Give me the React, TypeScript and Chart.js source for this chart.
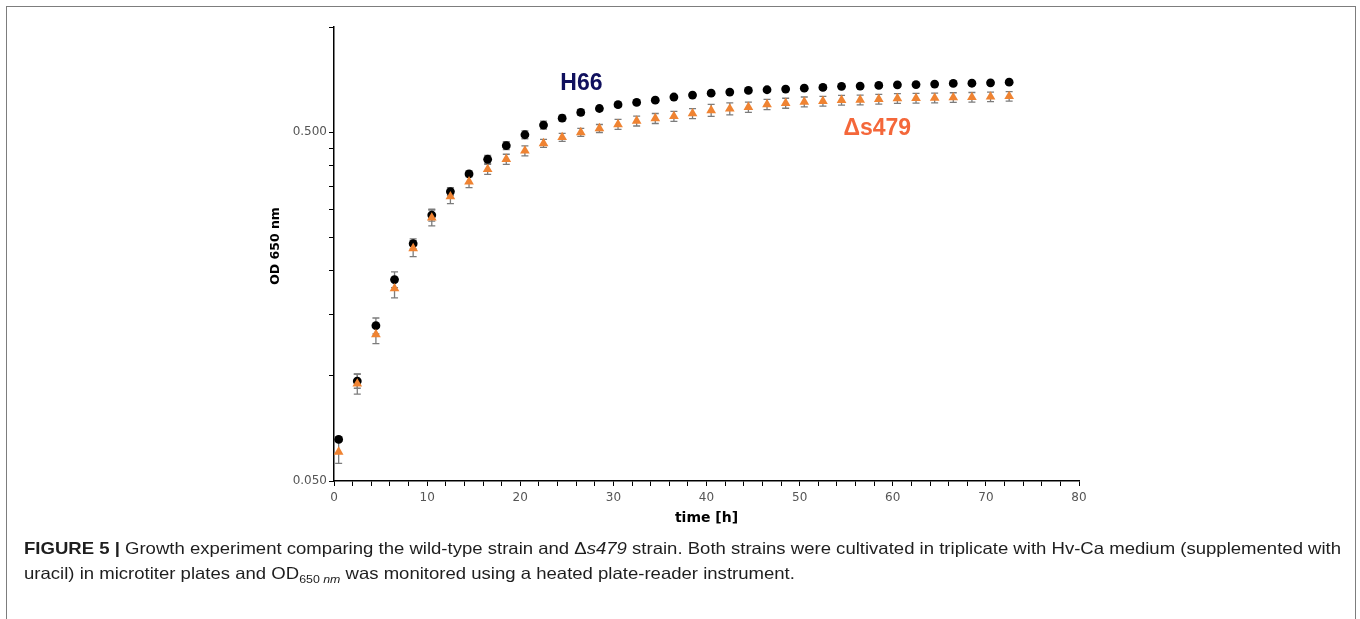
import React, { useEffect, useLayoutEffect, useRef } from 'react';
import { Chart, registerables } from 'chart.js';

Chart.register(...registerables);

// ---- data ----
const TIME_H = [
  0.5, 2.5, 4.5, 6.5, 8.5, 10.5, 12.5, 14.5, 16.5, 18.5, 20.5, 22.5, 24.5,
  26.5, 28.5, 30.5, 32.5, 34.5, 36.5, 38.5, 40.5, 42.5, 44.5, 46.5, 48.5,
  50.5, 52.5, 54.5, 56.5, 58.5, 60.5, 62.5, 64.5, 66.5, 68.5, 70.5, 72.5,
];

const OD_H66 = [
  0.0658, 0.0967, 0.1393, 0.1889, 0.2393, 0.289, 0.3376, 0.3793, 0.4178,
  0.457, 0.4912, 0.5236, 0.548, 0.569, 0.584, 0.599, 0.608, 0.617, 0.63,
  0.638, 0.646, 0.651, 0.658, 0.661, 0.664, 0.668, 0.671, 0.676, 0.677,
  0.68, 0.683, 0.684, 0.686, 0.689, 0.69, 0.692, 0.695,
];

const SD_H66 = [
  0.0009, 0.0045, 0.0073, 0.0099, 0.0079, 0.0114, 0.0089, 0.0075, 0.011,
  0.012, 0.0129, 0.0138, 0.0108, 0.0112, 0.009, 0.009, 0.009, 0.008, 0.008,
  0.008, 0.008, 0.008, 0.008, 0.008, 0.008, 0.008, 0.008, 0.008, 0.008,
  0.008, 0.008, 0.008, 0.008, 0.008, 0.008, 0.008, 0.008,
];

const OD_S479 = [
  0.0606, 0.095, 0.1315, 0.178, 0.232, 0.284, 0.3267, 0.3606, 0.391, 0.418,
  0.442, 0.464, 0.483, 0.499, 0.512, 0.526, 0.538, 0.547, 0.555, 0.565,
  0.577, 0.583, 0.589, 0.6, 0.605, 0.61, 0.613, 0.617, 0.618, 0.621, 0.624,
  0.625, 0.626, 0.628, 0.629, 0.631, 0.633,
];

const SD_S479 = [
  0.0044, 0.0063, 0.0078, 0.0105, 0.0122, 0.0149, 0.015, 0.0142, 0.0129,
  0.0138, 0.0145, 0.0122, 0.0127, 0.0131, 0.0135, 0.0173, 0.0177, 0.018,
  0.0183, 0.0186, 0.0228, 0.023, 0.02, 0.02, 0.02, 0.02, 0.02, 0.02, 0.02,
  0.02, 0.02, 0.02, 0.02, 0.02, 0.02, 0.02, 0.02,
];

const Y_TICKS = [0.05, 0.1, 0.15, 0.2, 0.25, 0.3, 0.35, 0.4, 0.45, 0.5, 1.0];
const Y_TICK_LABELS: Record<string, string> = { '0.05': '0.050', '0.5': '0.500' };
const X_MIN = 0;
const X_MAX = 80;
const X_STEP = 2;
const X_LABEL_EVERY = 10;
const Y_MIN = 0.05;
const Y_MAX = 1.0;
const X_TITLE = 'time [h]';
const Y_TITLE = 'OD 650 nm';

const SERIES_LABELS = [
  { text: 'H66', t: 24.3, od: 0.686, color: '#10105e' },
  { text: '\u0394s479', t: 54.7, od: 0.51, color: '#f4673a' },
];

const toPoints = (xs: number[], ys: number[]) => xs.map((x, i) => ({ x, y: ys[i] }));

const errorBarPlugin = {
  id: 'errorBars',
  beforeDatasetsDraw(chart: any) {
    const { ctx } = chart;
    const xs = chart.scales.x;
    const ys = chart.scales.y;
    ctx.save();
    ctx.strokeStyle = '#7c7c7c';
    ctx.lineWidth = 1.3;
    chart.data.datasets.forEach((ds: any) => {
      const sd: number[] | undefined = ds.sd;
      if (!sd) return;
      ds.data.forEach((p: any, i: number) => {
        const x = xs.getPixelForValue(p.x);
        const y1 = ys.getPixelForValue(p.y + sd[i]);
        const y2 = ys.getPixelForValue(p.y - sd[i]);
        ctx.beginPath();
        ctx.moveTo(x, y1);
        ctx.lineTo(x, y2);
        ctx.moveTo(x - 3.5, y1);
        ctx.lineTo(x + 3.5, y1);
        ctx.moveTo(x - 3.5, y2);
        ctx.lineTo(x + 3.5, y2);
        ctx.stroke();
      });
    });
    ctx.restore();
  },
};

const seriesLabelPlugin = {
  id: 'seriesLabels',
  afterDatasetsDraw(chart: any) {
    const { ctx } = chart;
    const xs = chart.scales.x;
    const ys = chart.scales.y;
    ctx.save();
    ctx.font = 'bold 23px "Liberation Sans", Arial, sans-serif';
    ctx.textAlign = 'left';
    ctx.textBaseline = 'middle';
    SERIES_LABELS.forEach((l) => {
      ctx.fillStyle = l.color;
      ctx.fillText(l.text, xs.getPixelForValue(l.t), ys.getPixelForValue(l.od));
    });
    // y-axis title (placed slightly above the centre of the axis, as in the reference)
    const area = chart.chartArea;
    ctx.font = 'bold 12.5px "DejaVu Sans", Verdana, sans-serif';
    ctx.fillStyle = '#000000';
    ctx.textAlign = 'center';
    ctx.translate(276, (area.top + area.bottom) / 2 - 8);
    ctx.rotate(-Math.PI / 2);
    ctx.fillText(Y_TITLE, 0, 0);
    ctx.restore();
  },
};

function GrowthChart() {
  const ref = useRef<HTMLCanvasElement | null>(null);
  useEffect(() => {
    if (!ref.current) return;
    const tickFont = { family: '"DejaVu Sans", Verdana, sans-serif', size: 12 };
    const chart = new Chart(ref.current, {
      type: 'scatter',
      data: {
        datasets: [
          {
            label: '\u0394s479',
            data: toPoints(TIME_H, OD_S479),
            sd: SD_S479,
            pointStyle: 'triangle',
            pointRadius: 5.6,
            backgroundColor: '#ef8332',
            borderColor: '#ef8332',
            borderWidth: 0,
            showLine: false,
            order: 0,
          } as any,
          {
            label: 'H66',
            data: toPoints(TIME_H, OD_H66),
            sd: SD_H66,
            pointStyle: 'circle',
            pointRadius: 4.4,
            backgroundColor: '#000000',
            borderColor: '#000000',
            borderWidth: 0,
            showLine: false,
            order: 1,
          } as any,
        ],
      },
      options: {
        animation: false,
        responsive: false,
        maintainAspectRatio: false,
        events: [],
        layout: { padding: { left: 0, top: 27, right: 281, bottom: 0 } },
        plugins: { legend: { display: false }, tooltip: { enabled: false } },
        scales: {
          x: {
            type: 'linear',
            min: X_MIN,
            max: X_MAX,
            afterFit: (s: any) => { s.height = 138; },
            ticks: {
              stepSize: X_STEP,
              autoSkip: false,
              maxRotation: 0,
              padding: 5,
              color: '#555555',
              font: tickFont,
              callback: (v: any) => (Number(v) % X_LABEL_EVERY === 0 ? String(v) : ''),
            },
            grid: { drawOnChartArea: false, drawTicks: true, tickLength: 5, color: '#000000', lineWidth: 1 },
            border: { display: true, color: '#000000', width: 1.5 },
            title: {
              display: true,
              text: X_TITLE,
              color: '#000000',
              font: { family: '"DejaVu Sans", Verdana, sans-serif', size: 14, weight: 'bold' },
              padding: { top: 0, bottom: 92 },
            },
          },
          y: {
            type: 'logarithmic',
            min: Y_MIN,
            max: Y_MAX,
            afterFit: (s: any) => { s.width = 334; },
            afterBuildTicks: (s: any) => { s.ticks = Y_TICKS.map((v) => ({ value: v })); },
            ticks: {
              autoSkip: false,
              padding: 2,
              color: '#555555',
              font: tickFont,
              callback: (v: any) => Y_TICK_LABELS[String(v)] ?? '',
            },
            grid: { drawOnChartArea: false, drawTicks: true, tickLength: 5, color: '#000000', lineWidth: 1 },
            border: { display: true, color: '#000000', width: 1.5 },
            title: { display: false },
          },
        },
      } as any,
      plugins: [errorBarPlugin, seriesLabelPlugin],
    });
    return () => chart.destroy();
  }, []);
  return (
    <canvas
      ref={ref}
      width={1360}
      height={619}
      style={{ position: 'absolute', left: 0, top: 0, width: 1360, height: 619 }}
    />
  );
}

function Caption() {
  const l1 = useRef<HTMLDivElement | null>(null);
  const l2 = useRef<HTMLDivElement | null>(null);
  useLayoutEffect(() => {
    if (!l1.current || !l2.current) return;
    const w = l1.current.scrollWidth;
    const k = w > 0 ? 1317 / w : 1;
    l1.current.style.transform = `scaleX(${k})`;
    l2.current.style.transform = `scaleX(${k})`;
  }, []);
  const lineStyle: React.CSSProperties = {
    position: 'absolute',
    left: 24,
    whiteSpace: 'nowrap',
    transformOrigin: '0 0',
    fontFamily: '"Liberation Sans", Arial, sans-serif',
    fontSize: 16.5,
    color: '#1e1e1e',
    lineHeight: '20px',
    display: 'inline-block',
  };
  return (
    <>
      <div ref={l1} style={{ ...lineStyle, top: 538 }}>
        <b>FIGURE 5 |</b> Growth experiment comparing the wild-type strain and {'\u0394'}<i>s479</i> strain. Both strains were cultivated in triplicate with Hv-Ca medium (supplemented with
      </div>
      <div ref={l2} style={{ ...lineStyle, top: 563 }}>
        uracil) in microtiter plates and OD<sub style={{ fontSize: 11 }}>650 <i>nm</i></sub> was monitored using a heated plate-reader instrument.
      </div>
    </>
  );
}

export default function App() {
  return (
    <div style={{ position: 'absolute', left: 0, top: 0, width: 1360, height: 619, overflow: 'hidden', background: '#ffffff' }}>
      <div
        style={{
          position: 'absolute',
          left: 6,
          top: 6,
          width: 1348,
          height: 800,
          border: '1px solid #7d7d7d',
        }}
      />
      <GrowthChart />
      <Caption />
    </div>
  );
}
